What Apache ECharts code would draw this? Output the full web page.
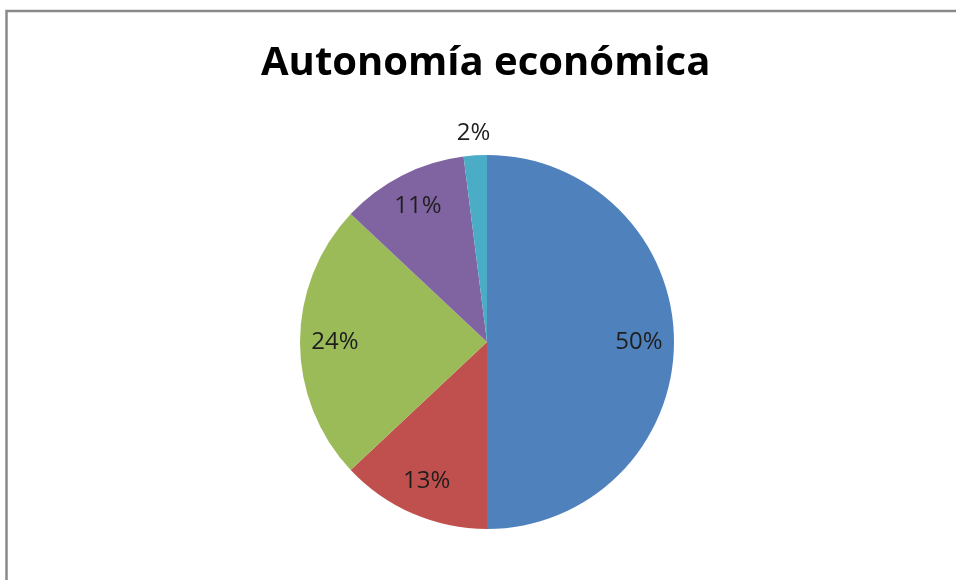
<!DOCTYPE html>
<html>
<head>
<meta charset="utf-8">
<script src="https://cdn.jsdelivr.net/npm/echarts@6/dist/echarts.min.js"></script>
<style>
html,body{margin:0;padding:0;background:#fff;overflow:hidden;}
#c{width:956px;height:580px;}
</style>
</head>
<body>
<div id="c"></div>
<script>
const titleText = 'Autonomía económica';
const categories = ['A', 'B', 'C', 'D', 'E'];
const values = [50, 13, 24, 11, 2];
const colors = ['#4F81BD', '#C0504D', '#9BBB59', '#8064A2', '#4BACC6'];

const chart = echarts.init(document.getElementById('c'), null, {renderer: 'canvas'});

const pieData = categories.map((c, i) => ({
  name: c, value: values[i], itemStyle: {color: colors[i]}
}));
const labelData = categories.map((c, i) => {
  const d = {name: c, value: values[i]};
  if (i === 4) d.label = {offset: [-4, -57]};
  return d;
});

chart.setOption({
  backgroundColor: '#ffffff',
  animation: false,
  title: {
    text: titleText,
    left: 256,
    top: 39,
    textStyle: {fontFamily: 'Open Sans', fontWeight: 'bold', fontSize: 40, color: '#000'}
  },
  graphic: [{
    type: 'rect', z: 100,
    shape: {x: 6.5, y: 11, width: 1200, height: 900},
    style: {fill: 'none', stroke: '#8a8a8a', lineWidth: 2.5}
  }],
  series: [{
    type: 'pie',
    center: [487, 342],
    radius: [0, 187],
    startAngle: 90,
    clockwise: true,
    label: {show: false},
    labelLine: {show: false},
    itemStyle: {borderWidth: 0},
    emphasis: {disabled: true},
    data: pieData
  }, {
    type: 'pie',
    center: [487, 342],
    radius: [111, 187],
    startAngle: 90,
    clockwise: true,
    silent: true,
    itemStyle: {color: 'rgba(0,0,0,0)', borderWidth: 0},
    label: {
      show: true, position: 'inside',
      formatter: p => p.value + '%',
      fontFamily: 'Open Sans', fontSize: 24, color: '#1e1e1e'
    },
    labelLine: {show: false},
    emphasis: {disabled: true},
    data: labelData
  }]
});
</script>
</body>
</html>
